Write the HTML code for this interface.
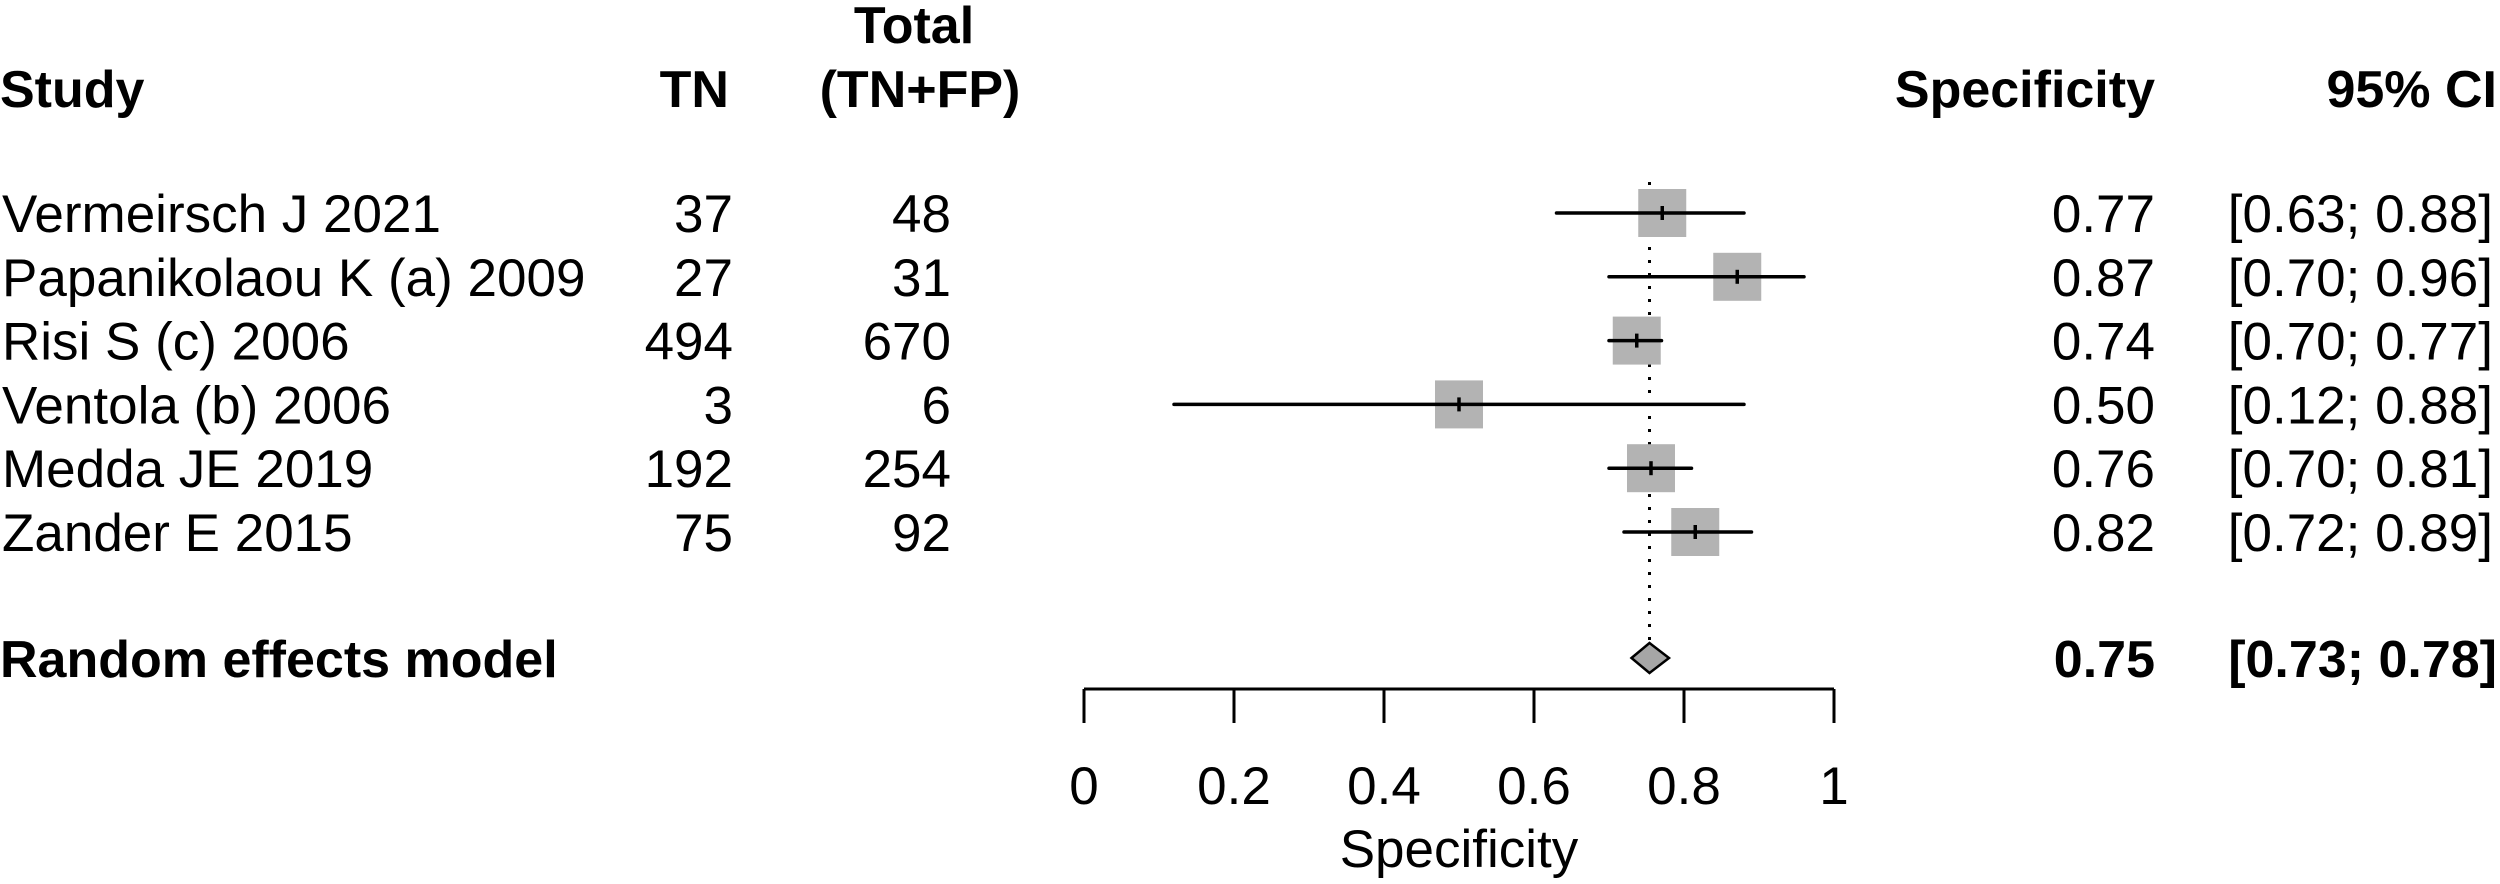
<!DOCTYPE html>
<html><head><meta charset="utf-8"><style>
html,body{margin:0;padding:0;background:#fff;width:2500px;height:884px;overflow:hidden}
svg text{font-family:"Liberation Sans",Arial,sans-serif;fill:#000}
</style></head><body>
<svg id="chart" width="2500" height="884" viewBox="0 0 2500 884" xmlns="http://www.w3.org/2000/svg">
<g id="hdr" font-weight="bold" font-size="52">
<text x="0" y="107">Study</text>
<text x="729" y="107" text-anchor="end">TN</text>
<text x="914" y="43" text-anchor="middle">Total</text>
<text x="920" y="107" text-anchor="middle">(TN+FP)</text>
<text x="2155" y="107" text-anchor="end">Specificity</text>
<text x="2497" y="107" text-anchor="end">95% CI</text>
</g>
<g id="plot"></g>
</svg>
<script>
const studies=["Vermeirsch J 2021","Papanikolaou K (a) 2009","Risi S (c) 2006","Ventola (b) 2006","Medda JE 2019","Zander E 2015"];
const tn=[37,27,494,3,192,75];
const total=[48,31,670,6,254,92];
const est=[0.771,0.871,0.737,0.500,0.756,0.815];
const lower=[0.63,0.70,0.70,0.12,0.70,0.72];
const upper=[0.88,0.96,0.77,0.88,0.81,0.89];
const estLabels=["0.77","0.87","0.74","0.50","0.76","0.82"];
const ciLabels=["[0.63; 0.88]","[0.70; 0.96]","[0.70; 0.77]","[0.12; 0.88]","[0.70; 0.81]","[0.72; 0.89]"];
const pooled=[0.754,0.73,0.78];
const pooledLabels=["0.75","[0.73; 0.78]"];
const ticks=[0,0.2,0.4,0.6,0.8,1];
const tickLabels=["0","0.2","0.4","0.6","0.8","1"];

const NS="http://www.w3.org/2000/svg";
const g=document.getElementById('plot');
const X=v=>1084+v*750;
const Y=i=>213+i*63.8;
function mk(tag,at,parent){const e=document.createElementNS(NS,tag);for(const k in at)e.setAttribute(k,at[k]);(parent||g).appendChild(e);return e;}
function txt(s,x,y,anchor,bold,fs){const t=mk('text',{x:x,y:y,'font-size':fs||53,'text-anchor':anchor});if(bold)t.setAttribute('font-weight','bold');t.textContent=s;return t;}

const ref=mk('line',{x1:X(pooled[0]),x2:X(pooled[0]),y1:182,y2:643,stroke:'#000','stroke-width':3,'stroke-dasharray':'3 10'});



studies.forEach((s,i)=>{
  const y=Y(i);
  let t=txt(s,2,y+19,'start');
  
  
  t=txt(String(tn[i]),733,y+19,'end');
  
  
  t=txt(String(total[i]),951,y+19,'end');
  
  
  t=txt(estLabels[i],2155,y+19,'end');
  
  
  t=txt(ciLabels[i],2493,y+19,'end');
  
  
  const b=mk('rect',{x:X(est[i])-24,y:y-24,width:48,height:48,fill:'#b3b3b3'});
  
  
  const l=mk('line',{x1:X(lower[i]),x2:X(upper[i]),y1:y,y2:y,stroke:'#000','stroke-width':3.5,'stroke-linecap':'round'});
  
  
  const c=mk('line',{x1:X(est[i]),x2:X(est[i]),y1:y-7,y2:y+7,stroke:'#000','stroke-width':3.5});
  
  
});

let pt=txt('Random effects model',0,677,'start',true,52);


pt=txt(pooledLabels[0],2155,677,'end',true,52);


pt=txt(pooledLabels[1],2497,677,'end',true,52);


const dy=658;
const dm=mk('polygon',{points:`${X(pooled[1])},${dy} ${X(pooled[0])},${dy-15} ${X(pooled[2])},${dy} ${X(pooled[0])},${dy+15}`,fill:'#a6a6a6',stroke:'#000','stroke-width':2.5});



const ax=mk('line',{x1:X(0),x2:X(1),y1:689,y2:689,stroke:'#000','stroke-width':3});


ticks.forEach((v,i)=>{
  const tk=mk('line',{x1:X(v),x2:X(v),y1:689,y2:723,stroke:'#000','stroke-width':3});
  
  
  const tl=txt(tickLabels[i],X(v),804,'middle');
  
  
});
const at=txt('Specificity',X(0.5),867,'middle');


</script>
</body></html>
